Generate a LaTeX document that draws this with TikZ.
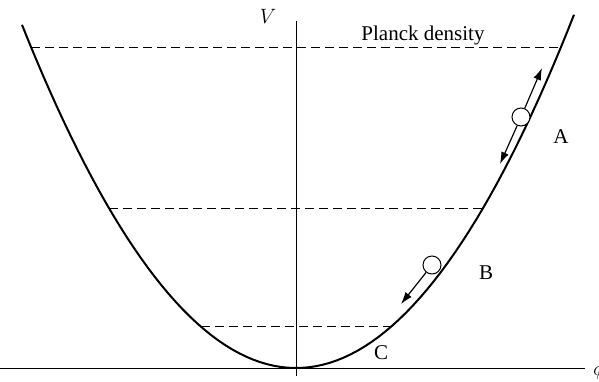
\documentclass[tikz,border=0pt]{standalone}
\usepackage{fontspec}
\setmainfont{Liberation Serif}
\usetikzlibrary{arrows.meta}

\begin{document}
\begin{tikzpicture}[x=1pt,y=-1pt
,axisline/.style={color=black,line width=1pt}
,potential/.style={color=black,line width=2pt}
,level/.style={color=black,line width=1pt,dash pattern=on 9pt off 5pt}
,ball/.style={circle,draw=black,fill=white,line width=1pt,minimum size=18pt,inner sep=0}
,motion/.style={color=black,line width=1.2pt,-{Latex[length=12pt,width=8pt]}}
,label/.style={font=\fontsize{21}{23}\selectfont,inner sep=0}
]
\useasboundingbox (0,0) rectangle (599,381);
% axes
\coordinate (xstart) at (0,368);
\coordinate (xend) at (585,368);
\coordinate (ytop) at (296,21);
\coordinate (ybot) at (296,376);
\draw[axisline] (xstart) -- (xend);
\draw[axisline] (ybot) -- (ytop);
\node[label,anchor=west] (phi) at (593,370) {$\phi$};
\node[label] (vlab) at (268,16) {$V$};
% potential
\draw[potential] plot[domain=-274:278,samples=80] ({296+\x},{368-45.71*(\x/100)*(\x/100)});
% levels
\coordinate (planckL) at (31,47);
\coordinate (planckR) at (561,47);
\coordinate (midL) at (109,208);
\coordinate (midR) at (483,208);
\coordinate (lowL) at (201,326);
\coordinate (lowR) at (391,326);
\draw[level] (planckL) -- (planckR);
\draw[level] (midL) -- (midR);
\draw[level] (lowL) -- (lowR);
\node[label] (planck) at (423,35) {Planck density};
% regions
\node[label] (A) at (561,137) {A};
\node[label] (B) at (486,273) {B};
\node[label] (C) at (381,353) {C};
% fields
\node[ball] (ballA) at (521,117) {};
\coordinate (tipAup) at (542,68);
\coordinate (tipAdown) at (500,164);
\draw[motion] (ballA) -- (tipAup);
\draw[motion] (ballA) -- (tipAdown);
\node[ball] (ballB) at (432,265) {};
\coordinate (tipB) at (401,304);
\draw[motion] (ballB) -- (tipB);
\end{tikzpicture}
\end{document}
